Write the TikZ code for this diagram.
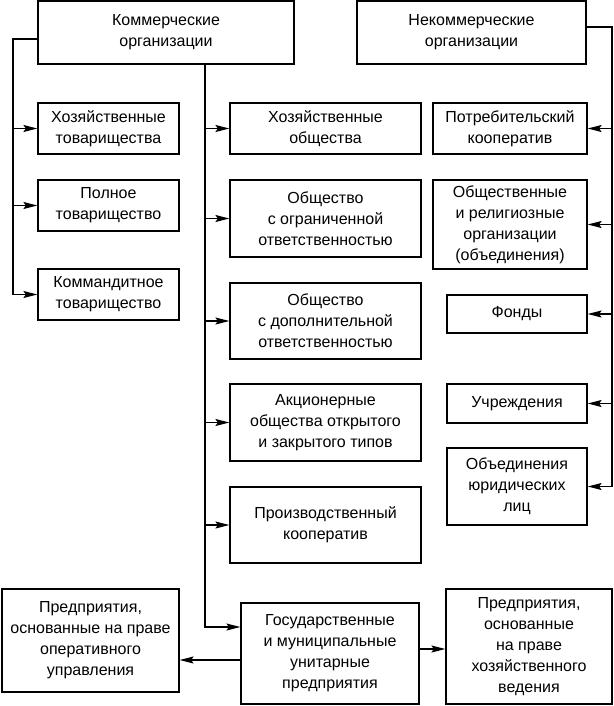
\documentclass[tikz,border=0pt]{standalone}
\usepackage{fontspec}
\setmainfont{Liberation Sans}
\usetikzlibrary{arrows.meta}
\usetikzlibrary{positioning}
\tikzset{
  orgnode/.style = {draw=black, align=center, inner sep=0pt, line width=1.2pt,
    font=\fontsize{16}{21}\selectfont},% rectangle of the scheme
  sz/.style 2 args = {minimum width=#1pt, minimum height=#2pt},% box size in px
  link/.style = {line width=1.2pt},% connector
}

\begin{document}
\begin{tikzpicture}[x=1pt,y=-1pt,>={Stealth[length=14pt,width=7pt,inset=2.5pt]}]
\useasboundingbox (0,0) rectangle (613,706);
% heads
\node [orgnode, sz={256}{63}] (kom) at (166,32.5) {Коммерческие\\организации};
\node [orgnode, sz={229}{63}] (nekom) at (471.5,32.5) {Некоммерческие\\организации};
% left column
\node [orgnode, sz={141}{51}] (htov) at (108.5,128.5) {Хозяйственные\\товарищества};
\node [orgnode, sz={141}{51}] (ptov) at (108.5,205.5) {Полное\\товарищество};
\node [orgnode, sz={141}{51}] (ktov) at (108.5,294.5) {Коммандитное\\товарищество};
% middle column
\node [orgnode, sz={191}{51}] (hobs) at (325.5,128.5) {Хозяйственные\\общества};
\node [orgnode, sz={191}{77}] (ooo) at (325.5,218.5) {Общество\\с ограниченной\\ответственностью};
\node [orgnode, sz={191}{76}] (odo) at (325.5,321) {Общество\\с дополнительной\\ответственностью};
\node [orgnode, sz={191}{77}] (ao) at (325.5,422.5) {Акционерные\\общества открытого\\и закрытого типов};
\node [orgnode, sz={191}{76}] (pkoop) at (325.5,525) {Производственный\\кооператив};
\node [orgnode, sz={178}{101}] (gup) at (330,653.5) {Государственные\\и муниципальные\\унитарные\\предприятия};
\node [orgnode, sz={177}{103}] (oper) at (90.5,640.5) {Предприятия,\\основанные на праве\\оперативного\\управления};
\node [orgnode, sz={166}{115}] (hozv) at (529,646.5) {Предприятия,\\основанные\\на праве\\хозяйственного\\ведения};
% right column
\node [orgnode, sz={154}{51}] (potr) at (510,128.5) {Потребительский\\кооператив};
\node [orgnode, sz={154}{89}] (obsh) at (510,224.5) {Общественные\\и религиозные\\организации\\(объединения)};
\node [orgnode, sz={140}{38}] (fond) at (517,314) {Фонды};
\node [orgnode, sz={140}{39}] (uchr) at (517,403.5) {Учреждения};
\node [orgnode, sz={140}{77}] (obed) at (517,486.5) {Объединения\\юридических\\лиц};

\coordinate (lbus) at (13,0);
\coordinate (cbus) at (205,0);
\coordinate (rbus) at (612,0);

% commercial, left trunk
\draw [link,->] ([yshift=-6.5pt]kom.west) -| (ktov.west -| lbus) -- (ktov.west);
\foreach \n in {htov,ptov}
  \draw [link,->] (\n.west -| lbus) -- (\n.west);
% commercial, middle trunk
\draw [link,->] (kom.south -| cbus) |- ([yshift=26.5pt]gup.west);
\foreach \n in {hobs,ooo,odo,ao,pkoop}
  \draw [link,->] (\n.west -| cbus) -- (\n.west);
\draw [link,->] ([yshift=-6.5pt]gup.west) -- ([yshift=-6.5pt]gup.west -| oper.east);
\draw [link,->] ([yshift=4.5pt]gup.east) -- ([yshift=4.5pt]gup.east -| hozv.west);
% non-commercial, right trunk
\draw [link,->] ([yshift=5.5pt]nekom.east) -| (obed.east -| rbus) -- (obed.east);
\foreach \n in {potr,obsh,fond,uchr}
  \draw [link,->] (\n.east -| rbus) -- (\n.east);
\end{tikzpicture}
\end{document}
